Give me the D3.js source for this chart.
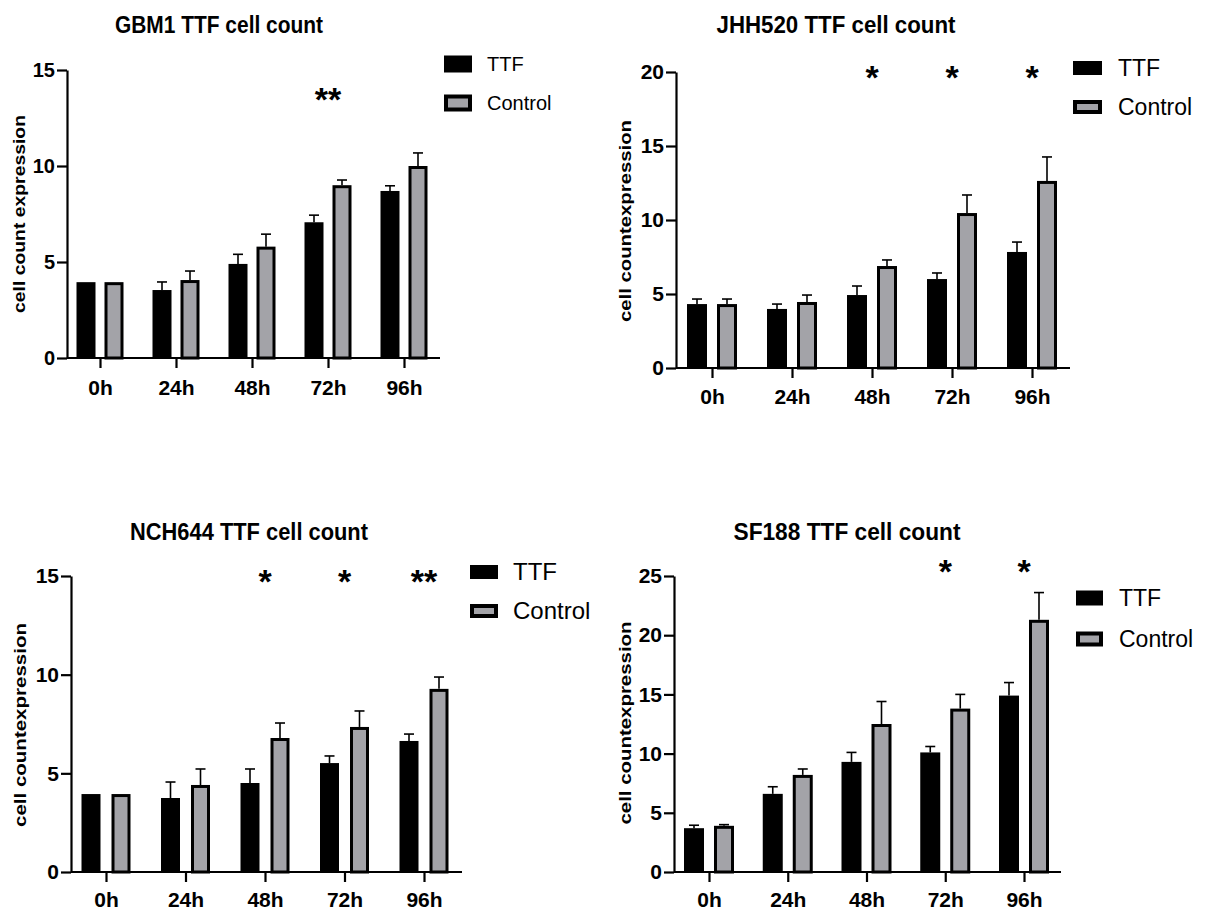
<!DOCTYPE html>
<html>
<head>
<meta charset="utf-8">
<script src="https://cdn.jsdelivr.net/npm/d3@7"></script>
<style>
  body { margin: 0; background: #fff; }
  svg { display: block; font-family: "Liberation Sans", Arial, sans-serif; }
</style>
</head>
<body>
<svg id="chart" width="1209" height="910"></svg>
<script>
// timepoints shared by all four panels
const timepoints = ["0h", "24h", "48h", "72h", "96h"];
const seriesNames = ["TTF", "Control"];

// GBM1
const gbm1TTF = [3.95, 3.54, 4.9, 7.07, 8.7];
const gbm1TTFErr = [0, 0.42, 0.5, 0.37, 0.27];
const gbm1Control = [3.95, 4.06, 5.8, 9.0, 10.0];
const gbm1ControlErr = [0, 0.47, 0.65, 0.27, 0.68];
const gbm1Stars = ["", "", "", "**", ""];

// JHH520
const jhhTTF = [4.32, 3.99, 4.93, 6.01, 7.84];
const jhhTTFErr = [0.34, 0.33, 0.61, 0.41, 0.67];
const jhhControl = [4.32, 4.46, 6.89, 10.47, 12.64];
const jhhControlErr = [0.34, 0.47, 0.41, 1.22, 1.62];
const jhhStars = ["", "", "*", "*", "*"];

// NCH644
const nchTTF = [3.95, 3.75, 4.51, 5.52, 6.64];
const nchTTFErr = [0, 0.81, 0.71, 0.36, 0.35];
const nchControl = [3.95, 4.41, 6.79, 7.35, 9.28];
const nchControlErr = [0, 0.81, 0.76, 0.81, 0.6];
const nchStars = ["", "", "*", "*", "**"];

// SF188
const sfTTF = [3.7, 6.6, 9.3, 10.1, 14.9];
const sfTTFErr = [0.25, 0.6, 0.8, 0.5, 1.1];
const sfControl = [3.9, 8.2, 12.5, 13.8, 21.3];
const sfControlErr = [0.1, 0.5, 1.9, 1.2, 2.3];
const sfStars = ["", "", "", "*", "*"];

const svg = d3.select("#chart");
const grey = "#a3a3a8";

const drawPanel = (p) => {
  const g = svg.append("g");
  const y = d3.scaleLinear().domain([0, p.max]).range([p.y0, p.yTop]);
  const x = d3.scalePoint().domain(timepoints).range([p.first, p.last]);

  // title
  g.append("text")
    .attr("x", p.titleX)
    .attr("y", p.titleY)
    .attr("text-anchor", "middle")
    .attr("font-size", 24)
    .attr("font-weight", "bold")
    .attr("textLength", p.titleW)
    .attr("lengthAdjust", "spacingAndGlyphs")
    .text(p.title);

  // y label
  g.append("text")
    .attr("transform", "translate(" + p.ylabX + "," + p.ylabY + ") rotate(-90)")
    .attr("text-anchor", "middle")
    .attr("font-size", 17)
    .attr("font-weight", "bold")
    .attr("textLength", p.ylabW)
    .attr("lengthAdjust", "spacingAndGlyphs")
    .text(p.ylab);

  const rows = timepoints.map((t, i) => ({
    t: t,
    ttf: p.ttf[i],
    ttfErr: p.ttfErr[i],
    ctl: p.ctl[i],
    ctlErr: p.ctlErr[i],
    star: p.stars[i],
  }));

  // TTF bars
  g.selectAll(".ttf")
    .data(rows)
    .enter()
    .append("rect")
    .attr("x", (d) => x(d.t) - p.off - p.bw / 2)
    .attr("y", (d) => y(d.ttf))
    .attr("width", p.bw)
    .attr("height", (d) => p.y0 - y(d.ttf))
    .attr("fill", "#000");

  // Control bars (thick black outline, grey fill)
  g.selectAll(".ctl")
    .data(rows)
    .enter()
    .append("rect")
    .attr("x", (d) => x(d.t) + p.off - p.bw / 2 + 1.5)
    .attr("y", (d) => y(d.ctl) + 1.5)
    .attr("width", p.bw - 3)
    .attr("height", (d) => p.y0 - y(d.ctl) - 1.5)
    .attr("fill", grey)
    .attr("stroke", "#000")
    .attr("stroke-width", 3);

  // error bars (upper only)
  const errs = [];
  rows.forEach((d) => {
    if (d.ttfErr > 0) errs.push({ cx: x(d.t) - p.off, v: d.ttf, e: d.ttfErr });
    if (d.ctlErr > 0) errs.push({ cx: x(d.t) + p.off, v: d.ctl, e: d.ctlErr });
  });
  const eg = g.selectAll(".err").data(errs).enter().append("g");
  eg.append("line")
    .attr("x1", (d) => d.cx)
    .attr("x2", (d) => d.cx)
    .attr("y1", (d) => y(d.v))
    .attr("y2", (d) => y(d.v + d.e))
    .attr("stroke", "#000")
    .attr("stroke-width", 1.6);
  eg.append("line")
    .attr("x1", (d) => d.cx - 5)
    .attr("x2", (d) => d.cx + 5)
    .attr("y1", (d) => y(d.v + d.e))
    .attr("y2", (d) => y(d.v + d.e))
    .attr("stroke", "#000")
    .attr("stroke-width", 1.6);

  // significance stars
  g.selectAll(".star")
    .data(rows.filter((d) => d.star))
    .enter()
    .append("text")
    .attr("x", (d) => x(d.t))
    .attr("y", p.starY + 17)
    .attr("text-anchor", "middle")
    .attr("font-size", 34)
    .attr("font-weight", "bold")
    .text((d) => d.star);

  // axes
  const yAxis = g.append("g")
    .attr("transform", "translate(" + p.axisX + ",0)")
    .call(
      d3.axisLeft(y)
        .tickValues(d3.range(0, p.max + 1, 5))
        .tickSize(10)
        .tickSizeOuter(0)
        .tickPadding(2)
    );
  yAxis.select(".domain").attr("stroke-width", 2.2);
  yAxis.selectAll(".tick line").attr("stroke-width", 2.2);
  yAxis.selectAll("text")
    .attr("font-size", p.yFont)
    .attr("font-weight", "bold")
    .attr("font-family", "Liberation Sans, Arial, sans-serif")
    .attr("fill", "#000");

  g.append("line")
    .attr("x1", p.axisX)
    .attr("x2", p.xEnd)
    .attr("y1", p.y0)
    .attr("y2", p.y0)
    .attr("stroke", "#000")
    .attr("stroke-width", 2.2);

  const xAxis = g.append("g")
    .attr("transform", "translate(0," + p.y0 + ")")
    .call(d3.axisBottom(x).tickSize(10).tickPadding(p.xPad));
  xAxis.select(".domain").remove();
  xAxis.selectAll(".tick line").attr("stroke-width", 2.2);
  xAxis.selectAll("text")
    .attr("font-size", 21)
    .attr("font-weight", "bold")
    .attr("font-family", "Liberation Sans, Arial, sans-serif")
    .attr("fill", "#000");

  // legend
  const lg = g.append("g");
  lg.append("rect")
    .attr("x", p.legX)
    .attr("y", p.legY1 - p.legH / 2)
    .attr("width", p.legW)
    .attr("height", p.legH)
    .attr("fill", "#000");
  lg.append("rect")
    .attr("x", p.legX + 2)
    .attr("y", p.legY2 - p.legH / 2 + 2)
    .attr("width", p.legW - 4)
    .attr("height", p.legH - 4)
    .attr("fill", grey)
    .attr("stroke", "#000")
    .attr("stroke-width", 4);
  lg.selectAll(".lt")
    .data(seriesNames)
    .enter()
    .append("text")
    .attr("x", p.legTX)
    .attr("y", (d, i) => (i === 0 ? p.legY1 : p.legY2))
    .attr("dy", "0.35em")
    .attr("font-size", p.legFont)
    .text((d) => d);
};

drawPanel({
  title: "GBM1 TTF cell count", titleX: 219, titleY: 33, titleW: 208,
  ylab: "cell count expression", ylabX: 25, ylabY: 214, ylabW: 198,
  ttf: gbm1TTF, ttfErr: gbm1TTFErr, ctl: gbm1Control, ctlErr: gbm1ControlErr, stars: gbm1Stars,
  max: 15, y0: 358, yTop: 70, axisX: 67, first: 100, last: 404, xEnd: 440,
  off: 14, bw: 19, starY: 94, yFont: 20, xPad: 12,
  legX: 444, legW: 28, legH: 17, legY1: 64, legY2: 103, legTX: 487, legFont: 20,
});

drawPanel({
  title: "JHH520 TTF cell count", titleX: 836, titleY: 33, titleW: 239,
  ylab: "cell countexpression", ylabX: 631, ylabY: 221, ylabW: 202,
  ttf: jhhTTF, ttfErr: jhhTTFErr, ctl: jhhControl, ctlErr: jhhControlErr, stars: jhhStars,
  max: 20, y0: 368, yTop: 72, axisX: 676, first: 712, last: 1032, xEnd: 1070,
  off: 15, bw: 20, starY: 72, yFont: 21, xPad: 11,
  legX: 1073, legW: 29, legH: 14, legY1: 68, legY2: 107, legTX: 1118, legFont: 23,
});

drawPanel({
  title: "NCH644 TTF cell count", titleX: 249, titleY: 540, titleW: 238,
  ylab: "cell countexpression", ylabX: 26, ylabY: 725, ylabW: 204,
  ttf: nchTTF, ttfErr: nchTTFErr, ctl: nchControl, ctlErr: nchControlErr, stars: nchStars,
  max: 15, y0: 872, yTop: 576, axisX: 71, first: 106, last: 424, xEnd: 462,
  off: 15, bw: 19, starY: 576, yFont: 21, xPad: 10,
  legX: 470, legW: 28, legH: 14, legY1: 572, legY2: 611, legTX: 513, legFont: 24,
});

drawPanel({
  title: "SF188 TTF cell count", titleX: 847, titleY: 540, titleW: 227,
  ylab: "cell countexpression", ylabX: 631, ylabY: 723, ylabW: 203,
  ttf: sfTTF, ttfErr: sfTTFErr, ctl: sfControl, ctlErr: sfControlErr, stars: sfStars,
  max: 25, y0: 872, yTop: 576, axisX: 674, first: 709, last: 1024, xEnd: 1061,
  off: 15, bw: 20, starY: 566, yFont: 21, xPad: 10,
  legX: 1076, legW: 27, legH: 15, legY1: 598, legY2: 639, legTX: 1119, legFont: 23,
});
</script>
</body>
</html>
